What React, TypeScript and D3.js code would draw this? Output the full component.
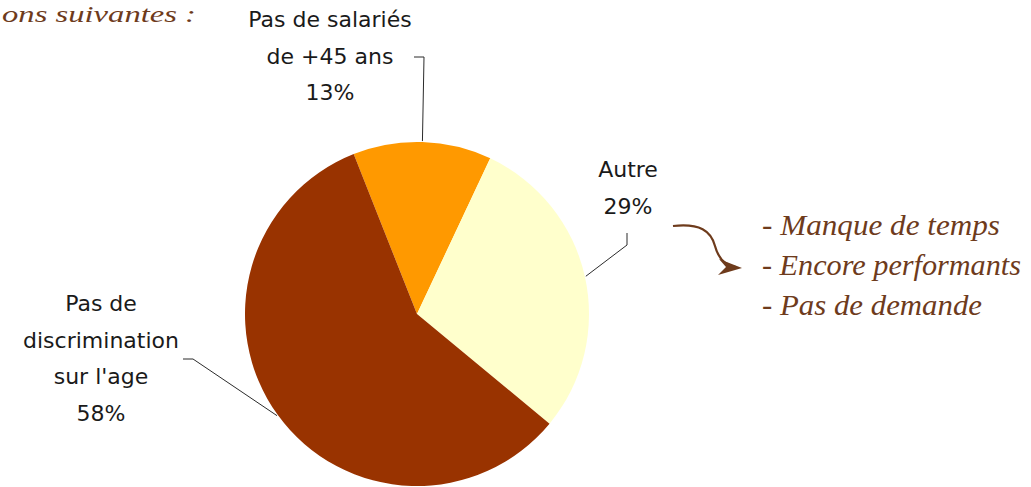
import React from "react";
import * as d3 from "d3";

// slice data (clockwise from the top)
const categories = ["Pas de salariés de +45 ans", "Autre", "Pas de discrimination sur l'age"];
const percents = [13, 29, 58];
const sliceColors = ["#FF9900", "#FFFFCC", "#993300"];

// label lines, in the same order as the categories
const labelLines = [
  ["Pas de salariés", "de +45 ans", "13%"],
  ["Autre", "29%"],
  ["Pas de", "discrimination", "sur l'age", "58%"]
];

// handwritten note beside the chart
const noteTitle = "ons suivantes :";
const noteItems = ["- Manque de temps", "- Encore performants", "- Pas de demande"];

const W = 1031,
  H = 487;
const CX = 417,
  CY = 314,
  R = 172;
const START = (-21.6 * Math.PI) / 180;

// where each label block sits, and the elbow of its leader line
const labelLayout = [
  { x: 330, y: 27, elbow: [[414, 57], [424, 57]] },
  { x: 628, y: 177, elbow: [[627, 233], [627, 245]] },
  { x: 101, y: 311, elbow: [[183, 359], [193, 359]] }
];
// widths the handwritten lines take up
const noteWidths = [238, 259, 220];

const LINE_H = 36.5;
const LABEL_FONT = "'DejaVu Sans', sans-serif";
const HAND_FONT = "'Liberation Serif', serif";
const BROWN = "#6e3b1c";

export default function App() {
  const data = categories.map((c, i) => ({ name: c, value: percents[i], color: sliceColors[i] }));

  const pie = d3
    .pie<any>()
    .sort(null)
    .value(d => d.value)
    .startAngle(START)
    .endAngle(START + 2 * Math.PI);
  const arcs = pie(data);

  const arc = d3.arc<any>().innerRadius(0).outerRadius(R);
  // zero-width ring on the rim, used for the leader line ends
  const rim = d3.arc<any>().innerRadius(R + 1).outerRadius(R + 1);

  return (
    <svg width={W} height={H} style={{ position: "absolute", left: 0, top: 0, background: "#fff" }}>
      <g transform={`translate(${CX},${CY})`}>
        {arcs.map((a, i) => (
          <path key={i} d={arc(a) as string} fill={a.data.color} />
        ))}
      </g>

      {/* leader lines */}
      {arcs.map((a, i) => {
        const [ex, ey] = rim.centroid(a);
        const pts = [...labelLayout[i].elbow, [CX + ex, CY + ey]];
        return (
          <polyline
            key={i}
            points={pts.map(p => p.join(",")).join(" ")}
            fill="none"
            stroke="#2b2b2b"
            strokeWidth={1}
          />
        );
      })}

      {/* slice labels */}
      {labelLines.map((lines, i) => (
        <text key={i} textAnchor="middle" fontFamily={LABEL_FONT} fontSize={22} fill="#1a1a1a">
          {lines.map((l, j) => (
            <tspan key={j} x={labelLayout[i].x} y={labelLayout[i].y + j * LINE_H}>
              {l}
            </tspan>
          ))}
        </text>
      ))}

      {/* handwritten title */}
      <text
        x={2}
        y={22}
        fontFamily={HAND_FONT}
        fontStyle="italic"
        fontSize={23}
        fill={BROWN}
        textLength={194}
        lengthAdjust="spacingAndGlyphs"
      >
        {noteTitle}
      </text>

      {/* curly arrow */}
      <path
        d="M673,226 C700,223 711,231 715,246 C719,261 728,266 736,267"
        fill="none"
        stroke={BROWN}
        strokeWidth={2.2}
      />
      <path d="M742,268 L719,259 L726,267 L718,275 Z" fill={BROWN} />

      {noteItems.map((t, i) => (
        <text
          key={i}
          x={762}
          y={235 + i * 40}
          fontFamily={HAND_FONT}
          fontStyle="italic"
          fontSize={29}
          fill={BROWN}
          textLength={noteWidths[i]}
          lengthAdjust="spacingAndGlyphs"
        >
          {t}
        </text>
      ))}
    </svg>
  );
}
